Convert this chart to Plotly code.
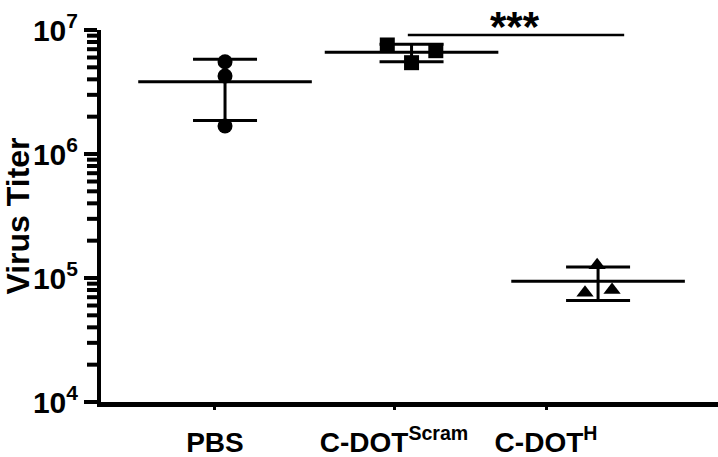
import math
import numpy as np
import plotly.graph_objects as go

# ---- data ----
categories = ["PBS", "C-DOT<sup>Scram</sup>", "C-DOT<sup>H</sup>"]
pbs_values = [5.55e6, 4.26e6, 1.68e6]
scram_values = [7.57e6, 6.81e6, 5.45e6]
h_values = [7.6e4, 8.0e4, 1.27e5]
pbs_jitter = [0.0, 0.0, 0.0]
scram_jitter = [-0.13, 0.13, 0.0]
h_jitter = [-0.07, 0.075, -0.005]
y_tick_values = [1e4, 1e5, 1e6, 1e7]
y_tick_text = ["10<sup>4</sup>", "10<sup>5</sup>", "10<sup>6</sup>", "10<sup>7</sup>"]
significance_label = "***"

FONT = "Liberation Sans, Arial, sans-serif"
X_RANGE = [-0.665, 2.643]
Y_RANGE = [4, 7]
PLOT_W = 617

groups = [
    (pbs_values, pbs_jitter, "circle", 15),
    (scram_values, scram_jitter, "square", 15),
    (h_values, h_jitter, "triangle-up", 15),
]

fig = go.Figure()

for i, (vals, jit, sym, size) in enumerate(groups):
    arr = np.array(vals)
    mean = arr.mean()
    sd = arr.std(ddof=1)
    fig.add_trace(go.Scatter(
        x=[i], y=[mean], mode="markers",
        marker=dict(symbol="line-ew", size=124, line=dict(width=3, color="black"), color="black"),
        error_y=dict(type="data", array=[sd], visible=True, color="black", thickness=3, width=32),
        showlegend=False, hoverinfo="skip",
    ))
    fig.add_trace(go.Scatter(
        x=[i + j for j in jit], y=vals, mode="markers",
        marker=dict(symbol=sym, size=size, color="black"),
        showlegend=False,
    ))

# minor log ticks (2..9 x 10^n) as short paper-referenced lines left of the y axis
minor_y = [m * 10 ** e for e in range(4, 7) for m in range(2, 10)]
for v in minor_y:
    yp = (math.log10(v) - Y_RANGE[0]) / (Y_RANGE[1] - Y_RANGE[0])
    fig.add_shape(type="line", xref="paper", yref="paper", layer="above",
                  x0=-14 / PLOT_W, x1=0, y0=yp, y1=yp,
                  line=dict(color="black", width=4))

# significance bracket between C-DOT Scram and C-DOT H
sig_x = [0.98, 2.14]
sig_y = [9.1e6, 9.1e6]
fig.add_trace(go.Scatter(x=sig_x, y=sig_y, mode="lines",
                         line=dict(color="black", width=2.5),
                         showlegend=False, hoverinfo="skip"))
fig.add_annotation(x=1.555, y=1.0, xref="x", yref="paper", text=significance_label,
                   showarrow=False, font=dict(family=FONT, size=42, color="black", weight="bold"),
                   yanchor="bottom", yshift=-22)

x_tick_positions = [-0.054, 0.906, 1.721]

fig.update_layout(
    width=718, height=457,
    margin=dict(l=101, r=0, t=30, b=55),
    plot_bgcolor="white", paper_bgcolor="white",
    font=dict(family=FONT, color="black"),
    xaxis=dict(
        range=X_RANGE, showgrid=False, zeroline=False,
        showline=True, linewidth=5, linecolor="black",
        tickvals=x_tick_positions, ticktext=categories,
        ticks="outside", ticklen=3, tickwidth=3, tickcolor="black",
        ticklabelstandoff=8, automargin=False,
        tickfont=dict(family=FONT, size=28, color="black", weight="bold"),
    ),
    yaxis=dict(
        type="log", range=Y_RANGE, showgrid=False, zeroline=False,
        showline=True, linewidth=4, linecolor="black",
        tickvals=y_tick_values, ticktext=y_tick_text,
        ticks="outside", ticklen=13, tickwidth=4, tickcolor="black",
        automargin=False,
        tickfont=dict(family=FONT, size=30, color="black", weight="bold"),
        title=dict(text="Virus Titer", font=dict(family=FONT, size=32, color="black", weight="bold"),
                   standoff=2),
    ),
)

fig.write_html("out.html")
